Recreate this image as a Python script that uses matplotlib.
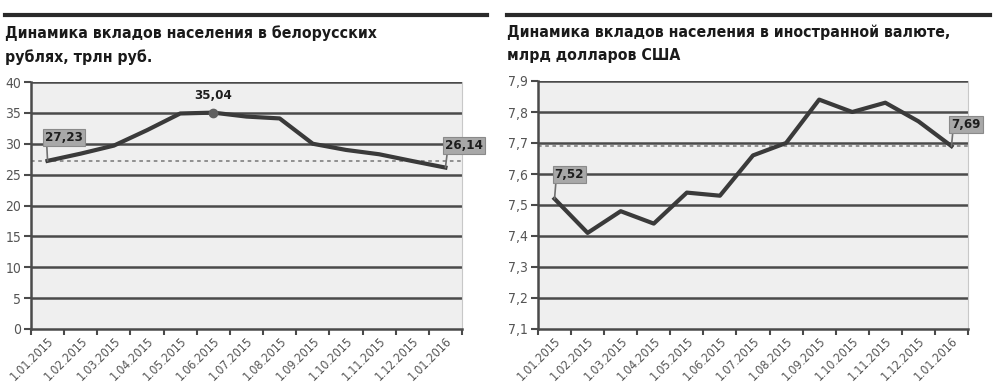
import matplotlib
matplotlib.use("Agg")
import matplotlib.pyplot as plt
from matplotlib.lines import Line2D

plt.rcParams['font.family'] = ['DejaVu Sans']
plt.rcParams['font.stretch'] = 'condensed'

dates = ["1.01.2015", "1.02.2015", "1.03.2015", "1.04.2015", "1.05.2015", "1.06.2015",
         "1.07.2015", "1.08.2015", "1.09.2015", "1.10.2015", "1.11.2015", "1.12.2015", "1.01.2016"]

byr_values = [27.23, 28.4, 29.7, 32.2, 34.9, 35.04, 34.4, 34.1, 30.0, 29.0, 28.3, 27.2, 26.14]
usd_values = [7.52, 7.41, 7.48, 7.44, 7.54, 7.53, 7.66, 7.70, 7.84, 7.80, 7.83, 7.77, 7.69]

byr_ref = 27.23
usd_ref = 7.69

byr_yticks = [0, 5, 10, 15, 20, 25, 30, 35, 40]
byr_ylabels = ["0", "5", "10", "15", "20", "25", "30", "35", "40"]
usd_yticks = [7.1, 7.2, 7.3, 7.4, 7.5, 7.6, 7.7, 7.8, 7.9]
usd_ylabels = ["7,1", "7,2", "7,3", "7,4", "7,5", "7,6", "7,7", "7,8", "7,9"]

title_left = "Динамика вкладов населения в белорусских\nрублях, трлн руб."
title_right = "Динамика вкладов населения в иностранной валюте,\nмлрд долларов США"

W, H = 999, 391
fig = plt.figure(figsize=(W / 100, H / 100), dpi=100)

line_col = "#3a3a3a"
grid_col = "#4a4a4a"
bg_col = "#efefef"
tick_col = "#555555"


def setup(ax, vals, yticks, ylabels, ylim, ref):
    n = len(vals)
    x = list(range(n))
    ax.set_facecolor(bg_col)
    ax.set_xlim(-0.5, n - 0.5)
    ax.set_ylim(*ylim)
    ax.set_yticks(yticks)
    ax.set_yticklabels(ylabels)
    ax.set_xticks(x)
    ax.set_xticklabels(dates, rotation=45, ha='right', rotation_mode='anchor')
    ax.set_xticks([i - 0.5 for i in range(n + 1)], minor=True)
    ax.tick_params(axis='x', which='major', length=0, pad=4, labelsize=8.8, labelcolor=tick_col)
    ax.tick_params(axis='x', which='minor', length=4, width=1.5, color=grid_col)
    ax.tick_params(axis='y', length=5, width=1.5, color=grid_col, labelsize=10,
                   labelcolor=tick_col, pad=2)
    for yt in yticks[1:]:
        ax.axhline(yt, color=grid_col, lw=1.8, zorder=1)
    ax.spines['top'].set_visible(False)
    ax.spines['right'].set_color("#c8c8c8")
    ax.spines['left'].set_color(grid_col)
    ax.spines['left'].set_linewidth(1.8)
    ax.spines['bottom'].set_color(grid_col)
    ax.spines['bottom'].set_linewidth(1.8)
    ax.axhline(ref, color="#888888", lw=1.3, ls=(0, (2, 2)), zorder=2)
    ax.plot(x, vals, color=line_col, lw=3, zorder=3, solid_joinstyle='round')
    return x


box = dict(boxstyle="square,pad=0.15", fc="#a8a8a8", ec="#8a8a8a", lw=0.8)
txt_kw = dict(fontsize=9.5, fontweight='bold', color="#1e1e1e", zorder=5)
arrow = dict(arrowstyle='-', color="#707070", lw=1.2, shrinkA=0, shrinkB=0, relpos=(0.05, 0))

# Left chart
ax1 = fig.add_axes([31 / W, 1 - 329 / H, (462 - 31) / W, (329 - 82) / H])
x1 = setup(ax1, byr_values, byr_yticks, byr_ylabels, (0, 40), byr_ref)
ax1.annotate("27,23", xy=(x1[0], byr_values[0]), xytext=(-2, 12), textcoords='offset points',
             ha='left', va='bottom', bbox=box, arrowprops=arrow, annotation_clip=False, **txt_kw)
ax1.annotate("35,04", xy=(x1[5], byr_values[5]), xytext=(0, 8), textcoords='offset points',
             ha='center', va='bottom', **txt_kw)
ax1.plot([x1[5]], [byr_values[5]], 'o', ms=6, color="#606060", zorder=4)
ax1.annotate("26,14", xy=(x1[-1], byr_values[-1]), xytext=(0, 11), textcoords='offset points',
             ha='left', va='bottom', bbox=box, arrowprops=arrow, annotation_clip=False, **txt_kw)

# Right chart
ax2 = fig.add_axes([538 / W, 1 - 329 / H, (968 - 538) / W, (329 - 81) / H])
x2 = setup(ax2, usd_values, usd_yticks, usd_ylabels, (7.1, 7.9), usd_ref)
ax2.annotate("7,52", xy=(x2[0], usd_values[0]), xytext=(0, 13), textcoords='offset points',
             ha='left', va='bottom', bbox=box, arrowprops=arrow, annotation_clip=False, **txt_kw)
ax2.annotate("7,69", xy=(x2[-1], usd_values[-1]), xytext=(0, 11), textcoords='offset points',
             ha='left', va='bottom', bbox=box, arrowprops=arrow, annotation_clip=False, **txt_kw)

# Top bars
fig.add_artist(Line2D([5 / W, 487 / W], [1 - 15 / H, 1 - 15 / H], transform=fig.transFigure,
                      color="#2a2a2a", lw=3))
fig.add_artist(Line2D([507 / W, 990 / W], [1 - 15 / H, 1 - 15 / H], transform=fig.transFigure,
                      color="#2a2a2a", lw=3))

# Titles
fig.text(5 / W, 1 - 25 / H, title_left, ha='left', va='top', fontsize=11.3, fontweight='bold',
         color="#1a1a1a", linespacing=1.65)
fig.text(507 / W, 1 - 25 / H, title_right, ha='left', va='top', fontsize=11.3, fontweight='bold',
         color="#1a1a1a", linespacing=1.65)

fig.savefig("out.png", dpi=100)
